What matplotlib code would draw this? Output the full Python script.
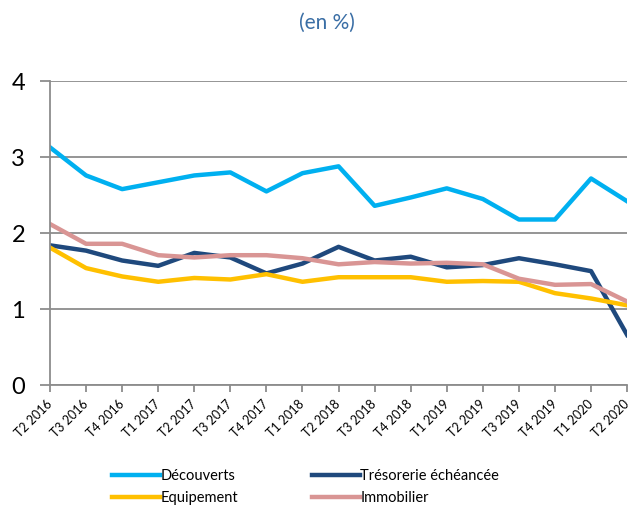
import matplotlib
matplotlib.use("Agg")
import matplotlib.pyplot as plt

plt.rcParams['font.family'] = ['Lato', 'DejaVu Sans']

# quarters
quarters = ["T2 2016", "T3 2016", "T4 2016", "T1 2017", "T2 2017", "T3 2017",
            "T4 2017", "T1 2018", "T2 2018", "T3 2018", "T4 2018", "T1 2019",
            "T2 2019", "T3 2019", "T4 2019", "T1 2020", "T2 2020"]

decouverts = [3.13, 2.76, 2.58, 2.67, 2.76, 2.80, 2.55, 2.79, 2.88, 2.36,
              2.47, 2.59, 2.45, 2.18, 2.18, 2.72, 2.42]
tresorerie = [1.84, 1.77, 1.64, 1.57, 1.74, 1.68, 1.47, 1.60, 1.82, 1.64,
              1.69, 1.55, 1.58, 1.67, 1.59, 1.50, 0.66]
equipement = [1.81, 1.54, 1.43, 1.36, 1.41, 1.39, 1.46, 1.36, 1.42, 1.42,
              1.42, 1.36, 1.37, 1.36, 1.21, 1.14, 1.05]
immobilier = [2.12, 1.86, 1.86, 1.71, 1.68, 1.71, 1.71, 1.67, 1.59, 1.62,
              1.60, 1.61, 1.59, 1.40, 1.32, 1.33, 1.10]

fig = plt.figure(figsize=(6.37, 5.08), dpi=100)
ax = fig.add_axes([0.0785, 0.242, 0.906, 0.598])

x = range(len(quarters))
l1, = ax.plot(x, decouverts, color="#00B0F0", lw=3.2, label="Découverts")
l2, = ax.plot(x, tresorerie, color="#1F497D", lw=3.2, label="Trésorerie échéancée")
l3, = ax.plot(x, equipement, color="#FFC000", lw=3.2, label="Equipement")
l4, = ax.plot(x, immobilier, color="#D99594", lw=3.2, label="Immobilier")

ax.set_xlim(0, len(quarters) - 1)
ax.set_ylim(0, 4)
ax.set_yticks([0, 1, 2, 3, 4])
ax.yaxis.grid(True, color="#8c8c8c", lw=1.3)
ax.set_axisbelow(True)
ax.set_xticks(list(x))
ax.set_xticklabels(quarters, rotation=45, ha="right", va="center",
                   rotation_mode="anchor", fontsize=9)
ax.tick_params(axis="y", labelsize=17, length=7, color="#8c8c8c", width=1.3, pad=11)
ax.tick_params(axis="x", length=5, color="#8c8c8c", width=1.3, pad=7)

for s in ["top", "right"]:
    ax.spines[s].set_visible(False)
for s in ["left", "bottom"]:
    ax.spines[s].set_color("#8c8c8c")
    ax.spines[s].set_linewidth(1.3)

fig.text(0.514, 0.955, "(en %)", ha="center", va="center", fontsize=15, color="#3A6EA5")

# row-major order like the original: Découverts, Trésorerie / Equipement, Immobilier
fig.legend([l1, l3, l2, l4], [l1.get_label(), l3.get_label(), l2.get_label(), l4.get_label()],
           loc="lower center", bbox_to_anchor=(0.48, -0.02), ncol=2, frameon=False,
           fontsize=10.5, handlelength=3.3, handletextpad=0.05, columnspacing=5.0,
           labelspacing=0.55)

fig.savefig("out.png", dpi=100)
